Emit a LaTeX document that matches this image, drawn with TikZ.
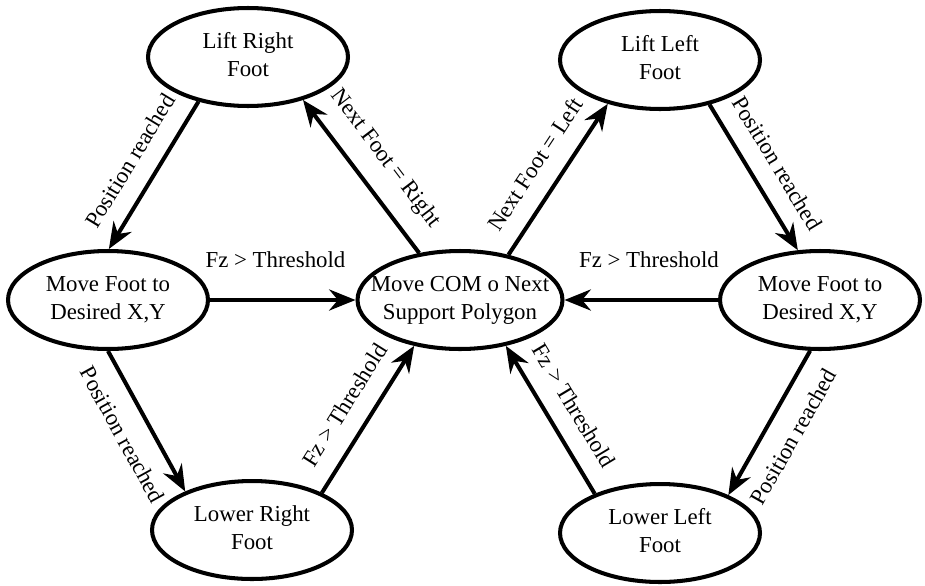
\documentclass[tikz,border=0pt]{standalone}
\usepackage{fontspec}
\setmainfont{Liberation Serif}
\usetikzlibrary{shapes.geometric,arrows.meta}

\tikzset{
	state/.style={ellipse, draw, line width=2.3pt, minimum width=4cm, minimum height=1.96cm, inner sep=0pt},
	trans/.style={line width=2.3pt, -{Stealth[length=15pt,width=12pt,inset=5pt]}},
	cond/.style={midway, sloped, inner sep=2pt}
}
% keep the text from widening the ellipse
\newcommand{\statetext}[1]{\makebox[0pt]{\begin{tabular}{@{}c@{}}#1\end{tabular}}}

\begin{document}
\begin{tikzpicture}[x=0.02cm, y=-0.02cm, font=\fontsize{13}{16}\selectfont]
			\useasboundingbox (0,0) rectangle (925,585);
			
			%states
			\node[state] (liftR) at (248,57) {\statetext{Lift Right\\Foot}};
			\node[state] (liftL) at (660,60) {\statetext{Lift Left\\Foot}};
			\node[state] (moveR) at (108,300) {\statetext{Move Foot to\\Desired X,Y}};
			\node[state, minimum width=4.1cm] (com) at (460,300) {\statetext{Move COM o Next\\Support Polygon}};
			\node[state] (moveL) at (820,300) {\statetext{Move Foot to\\Desired X,Y}};
			\node[state] (lowerR) at (252,530) {\statetext{Lower Right\\Foot}};
			\node[state] (lowerL) at (660,533) {\statetext{Lower Left\\Foot}};
			
			%right foot step
			\draw[trans] (liftR.222) -- node[cond, above=8pt]{Position reached} (moveR.89);
			\draw[trans] (moveR.270) -- node[cond, below=8pt]{Position reached} (lowerR.150);
			\draw[trans] (moveR.east) -- node[pos=0.45, above=15pt, inner sep=2pt]{Fz > Threshold} (com.west);
			\draw[trans] (lowerR.28) -- node[cond, above=8pt]{Fz > Threshold} (com.225);
			\draw[trans] (com.131) -- node[cond, above=8pt]{Next Foot = Right} (liftR.322);
			
			%left foot step
			\draw[trans] (com.43) -- node[cond, above=8pt]{Next Foot = Left} (liftL.220);
			\draw[trans] (liftL.318) -- node[cond, above=8pt]{Position reached} (moveL.114);
			\draw[trans] (moveL.west) -- node[pos=0.45, above=15pt, inner sep=2pt]{Fz > Threshold} (com.east);
			\draw[trans] (moveL.259) -- node[cond, below=8pt]{Position reached} (lowerL.29);
			\draw[trans] (lowerL.149) -- node[cond, above=8pt]{Fz > Threshold} (com.315);
\end{tikzpicture}
\end{document}
